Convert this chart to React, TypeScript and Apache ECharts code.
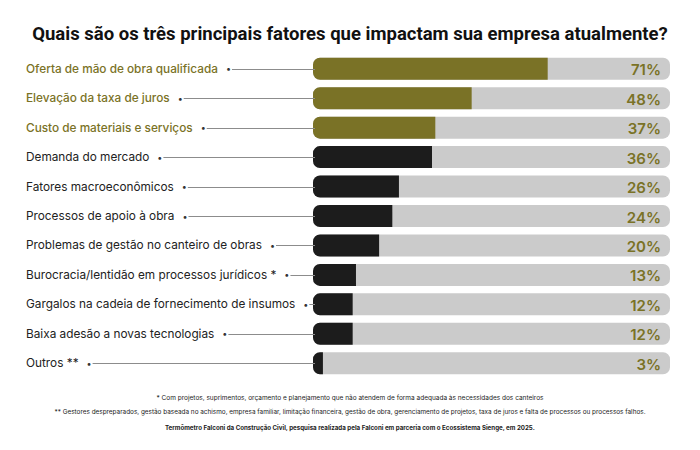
import React, { useEffect, useRef } from "react";
import * as echarts from "echarts";

const titleText = "Quais são os três principais fatores que impactam sua empresa atualmente?";
const categories = [
  "Oferta de mão de obra qualificada",
  "Elevação da taxa de juros",
  "Custo de materiais e serviços",
  "Demanda do mercado",
  "Fatores macroeconômicos",
  "Processos de apoio à obra",
  "Problemas de gestão no canteiro de obras",
  "Burocracia/lentidão em processos jurídicos *",
  "Gargalos na cadeia de fornecimento de insumos",
  "Baixa adesão a novas tecnologias",
  "Outros **",
];
const values = [71, 48, 37, 36, 26, 24, 20, 13, 12, 12, 3];
const highlighted = [true, true, true, false, false, false, false, false, false, false, false];
const footnotes = [
  "* Com projetos, suprimentos, orçamento e planejamento que não atendem de forma adequada às necessidades dos canteiros",
  "** Gestores despreparados, gestão baseada no achismo, empresa familiar, limitação financeira, gestão de obra, gerenciamento de projetos, taxa de juros e falta de processos ou processos falhos.",
  "Termômetro Falconi da Construção Civil, pesquisa realizada pela Falconi em parceria com o Ecossistema Sienge, em 2025.",
];

const X_MAX = 108;
const OLIVE = "#7a7226";
const DARK = "#1c1c1c";
const TRACK = "#cbcbcb";
const FONT = "Inter, 'Noto Sans', sans-serif";

export default function App() {
  const ref = useRef<HTMLDivElement>(null);
  useEffect(() => {
    if (!ref.current) return;
    const chart = echarts.init(ref.current, null, { renderer: "svg" });
    const option: any = {
      animation: false,
      backgroundColor: "#ffffff",
      title: {
        text: titleText,
        left: "center",
        top: 19,
        textStyle: { fontFamily: "Roboto, sans-serif", fontWeight: 700, fontSize: 18.5, color: "#111" },
      },
      grid: { left: 313, right: 30, top: 54, bottom: 72, containLabel: false },
      xAxis: { type: "value", min: 0, max: X_MAX, show: false },
      yAxis: {
        type: "category",
        data: categories,
        inverse: true,
        z: 10,
        axisLine: { show: false },
        axisTick: { show: false },
        axisLabel: {
          align: "left",
          margin: 287,
          backgroundColor: "#ffffff",
          padding: [3, 1, 3, 0],
          formatter: (v: string, i: number) =>
            (highlighted[i] ? `{o|${v}}` : `{k|${v}}`) + `{d|•}`,
          rich: {
            o: { color: OLIVE, fontFamily: FONT, fontSize: 11.8, fontWeight: 500 },
            k: { color: "#222", fontFamily: FONT, fontSize: 11.8, fontWeight: 400 },
            d: { color: "#333", fontFamily: FONT, fontSize: 9, padding: [0, 0, 0, 8] },
          },
        },
      },
      series: [
        {
          type: "bar",
          data: values.map((v, i) => ({
            value: v,
            itemStyle: { color: highlighted[i] ? OLIVE : DARK },
          })),
          barWidth: 22,
          showBackground: true,
          backgroundStyle: { color: TRACK, borderRadius: 7 },
          itemStyle: { borderRadius: [7, 0, 0, 7] },
          z: 2,
        },
        {
          type: "custom",
          z: 3,
          data: values.map((v, i) => [v, i]),
          encode: { x: 0, y: 1 },
          renderItem: (params: any, api: any) => {
            const v = api.value(0);
            const idx = api.value(1);
            const base = api.coord([0, idx]);
            const end = api.coord([X_MAX, idx]);
            const y = Math.round(base[1]) + 0.5;
            return {
              type: "group",
              children: [
                {
                  type: "line",
                  shape: { x1: 28, y1: y, x2: base[0] + 2, y2: y },
                  style: { stroke: "#8c8c8c", lineWidth: 1 },
                  z2: -1,
                },
                {
                  type: "text",
                  style: {
                    text: v + "%",
                    x: end[0] - 9,
                    y: base[1] + 1,
                    align: "right",
                    verticalAlign: "middle",
                    fill: OLIVE,
                    font: `600 15px ${FONT}`,
                  },
                },
              ],
            };
          },
        },
      ],
      graphic: [
        {
          type: "text",
          left: "center",
          top: 394,
          style: { text: footnotes[0], fill: "#222", font: `400 6.5px ${FONT}` },
        },
        {
          type: "text",
          left: "center",
          top: 409,
          style: { text: footnotes[1], fill: "#222", font: `400 6.4px ${FONT}` },
        },
        {
          type: "text",
          left: "center",
          top: 424,
          style: { text: footnotes[2], fill: "#222", font: `700 6.2px ${FONT}` },
        },
      ],
    };
    chart.setOption(option);
    return () => chart.dispose();
  }, []);
  return (
    <div
      ref={ref}
      style={{ position: "fixed", left: 0, top: 0, width: 700, height: 450, background: "#fff" }}
    />
  );
}
